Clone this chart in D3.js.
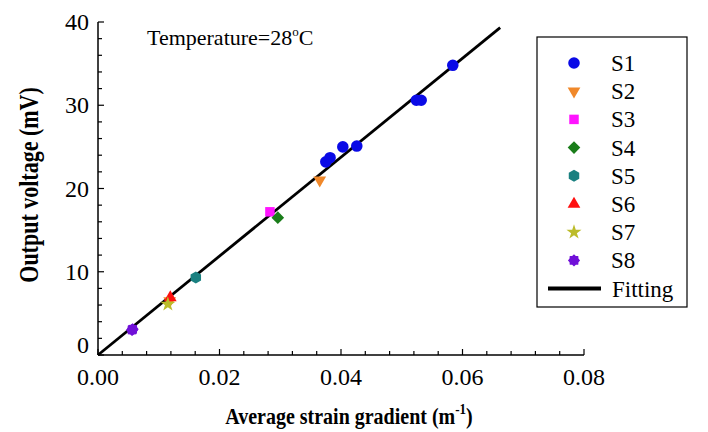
<!DOCTYPE html>
<html>
<head>
<meta charset="utf-8">
<script src="https://cdn.jsdelivr.net/npm/d3@7"></script>
<style>
  body { margin: 0; background: #fff; }
  text { font-family: 'Liberation Serif', 'DejaVu Serif', 'Times New Roman', serif; }
</style>
</head>
<body>
<svg id="chart" width="708" height="432" font-family="Liberation Serif, DejaVu Serif, serif"></svg>
<script>
// ---- data ----
const seriesNames = ["S1", "S2", "S3", "S4", "S5", "S6", "S7", "S8"];
const s1x = [0.0375, 0.0382, 0.0403, 0.0426, 0.0524, 0.0532, 0.0584];
const s1y = [23.2, 23.7, 25.0, 25.1, 30.6, 30.6, 34.8];
const s2x = [0.0365, 0.0118];
const s2y = [21.0, 6.5];
const s3x = [0.0283];
const s3y = [17.2];
const s4x = [0.0296];
const s4y = [16.5];
const s5x = [0.0161];
const s5y = [9.3];
const s6x = [0.0119];
const s6y = [6.9];
const s7x = [0.0115];
const s7y = [6.1];
const s8x = [0.0056, 0.0057];
const s8y = [3.0, 3.1];
const fitX = [0, 0.0662];
const fitSlope = 594;
const xTicks = [0.00, 0.02, 0.04, 0.06, 0.08];
const yTicks = [0, 10, 20, 30, 40];
const xLabel = "Average strain gradient (m";
const yLabel = "Output voltage (mV)";
const noteText = "Temperature=28";
const fitLabel = "Fitting";

const seriesX = [s1x, s2x, s3x, s4x, s5x, s6x, s7x, s8x];
const seriesY = [s1y, s2y, s3y, s4y, s5y, s6y, s7y, s8y];
const colors = ["#0a0ae6", "#f0882a", "#ff14ff", "#1a7d1a", "#1a8080", "#ff1010", "#bcbc2a", "#7010d8"];

// ---- layout ----
const svg = d3.select("#chart");
const x = d3.scaleLinear().domain([0, 0.08]).range([98, 584]);
const y = d3.scaleLinear().domain([0, 40]).range([355, 22]);

// symbols
const hexagon = {
  draw(ctx, size) {
    const r = Math.sqrt(size / 2.598);
    for (let i = 0; i < 6; i++) {
      const a = Math.PI / 6 + i * Math.PI / 3;
      const px = r * Math.cos(a), py = r * Math.sin(a);
      if (i === 0) ctx.moveTo(px, py); else ctx.lineTo(px, py);
    }
    ctx.closePath();
  }
};
const triDown = {
  draw(ctx, size) {
    const s = Math.sqrt(size * 4 / Math.sqrt(3));
    const h = s * Math.sqrt(3) / 2;
    ctx.moveTo(-s / 2, -h / 3);
    ctx.lineTo(s / 2, -h / 3);
    ctx.lineTo(0, 2 * h / 3);
    ctx.closePath();
  }
};
const blob = {
  draw(ctx, size) {
    const r = Math.sqrt(size / Math.PI);
    const n = 8;
    for (let i = 0; i < n * 2; i++) {
      const a = i * Math.PI / n;
      const rr = i % 2 === 0 ? r : r * 0.8;
      const px = rr * Math.cos(a), py = rr * Math.sin(a);
      if (i === 0) ctx.moveTo(px, py); else ctx.lineTo(px, py);
    }
    ctx.closePath();
  }
};
const symbols = [
  { type: d3.symbolCircle, size: 105, rot: 0 },
  { type: triDown, size: 70, rot: 0 },
  { type: d3.symbolSquare, size: 90, rot: 0 },
  { type: d3.symbolSquare, size: 80, rot: 45 },
  { type: hexagon, size: 95, rot: 0 },
  { type: d3.symbolTriangle, size: 70, rot: 0 },
  { type: d3.symbolStar, size: 70, rot: 0 },
  { type: blob, size: 115, rot: 0 }
];

// ---- axes ----
const axisG = svg.append("g").attr("stroke", "#000");
axisG.append("line").attr("x1", x(0)).attr("x2", x(0.08)).attr("y1", y(0)).attr("y2", y(0)).attr("stroke-width", 1.5);
axisG.append("line").attr("x1", x(0)).attr("x2", x(0)).attr("y1", y(0)).attr("y2", y(40)).attr("stroke-width", 1.5);

const xMinor = d3.range(0, 21).map(i => i * 0.004);
svg.append("g").selectAll("line").data(xMinor).join("line")
  .attr("x1", d => x(d)).attr("x2", d => x(d))
  .attr("y1", y(0))
  .attr("y2", (d, i) => y(0) - (i % 5 === 0 ? 6 : 4))
  .attr("stroke", "#000").attr("stroke-width", 1.2);
const yMinor = d3.range(0, 21).map(i => i * 2);
svg.append("g").selectAll("line").data(yMinor).join("line")
  .attr("y1", d => y(d)).attr("y2", d => y(d))
  .attr("x1", x(0))
  .attr("x2", (d, i) => x(0) + (i % 5 === 0 ? 6 : 4))
  .attr("stroke", "#000").attr("stroke-width", 1.2);

// tick labels
svg.append("g").selectAll("text").data(xTicks).join("text")
  .attr("x", d => x(d)).attr("y", 385)
  .attr("text-anchor", "middle").attr("font-size", 24)
  .text(d => d3.format(".2f")(d));
svg.append("g").selectAll("text").data(yTicks).join("text")
  .attr("x", 89).attr("y", d => y(d) + (d === 0 ? -2 : 8))
  .attr("text-anchor", "end").attr("font-size", 24)
  .text(d => d);

// axis titles
const xt = svg.append("text").attr("x", 349).attr("y", 424)
  .attr("text-anchor", "middle").attr("font-size", 20).attr("font-weight", "bold")
  .attr("transform", "translate(349,0) scale(1,1.12) translate(-349,-45)");
xt.append("tspan").text(xLabel);
xt.append("tspan").attr("font-size", 13).attr("dy", -9).text("-1");
xt.append("tspan").attr("dy", 9).text(")");

svg.append("text")
  .attr("transform", "translate(38,185) rotate(-90) scale(1,1.25)")
  .attr("text-anchor", "middle").attr("font-size", 22).attr("font-weight", "bold")
  .text(yLabel);

// note
const nt = svg.append("text").attr("x", 147).attr("y", 45).attr("font-size", 22);
nt.append("tspan").text(noteText);
nt.append("tspan").attr("font-size", 13).attr("dy", -9).text("o");
nt.append("tspan").attr("dy", 9).text("C");

// ---- fit line ----
svg.append("line")
  .attr("x1", x(fitX[0])).attr("y1", y(fitX[0] * fitSlope))
  .attr("x2", x(fitX[1])).attr("y2", y(fitX[1] * fitSlope))
  .attr("stroke", "#000").attr("stroke-width", 2.8);

// ---- points ----
seriesX.forEach((xs, si) => {
  const sym = symbols[si];
  const gen = d3.symbol().type(sym.type).size(sym.size);
  svg.append("g").selectAll("path").data(xs.map((v, i) => [v, seriesY[si][i]])).join("path")
    .attr("transform", d => `translate(${x(d[0])},${y(d[1])}) rotate(${sym.rot})`)
    .attr("d", gen())
    .attr("fill", colors[si]);
});

// ---- legend ----
const lg = svg.append("g");
lg.append("rect").attr("x", 537).attr("y", 37).attr("width", 150).attr("height", 270)
  .attr("fill", "none").attr("stroke", "#000").attr("stroke-width", 1.2);
seriesNames.forEach((name, i) => {
  const cy = 63 + i * 28.2;
  const sym = symbols[i];
  lg.append("path")
    .attr("transform", `translate(574,${cy}) rotate(${sym.rot})`)
    .attr("d", d3.symbol().type(sym.type).size(sym.size)())
    .attr("fill", colors[i]);
  lg.append("text").attr("x", 611).attr("y", cy + 8).attr("font-size", 23).text(name);
});
const fy = 63 + 8 * 28.2;
lg.append("line").attr("x1", 548).attr("x2", 601).attr("y1", fy).attr("y2", fy)
  .attr("stroke", "#000").attr("stroke-width", 4);
lg.append("text").attr("x", 612).attr("y", fy + 8).attr("font-size", 23).text(fitLabel);
</script>
</body>
</html>
